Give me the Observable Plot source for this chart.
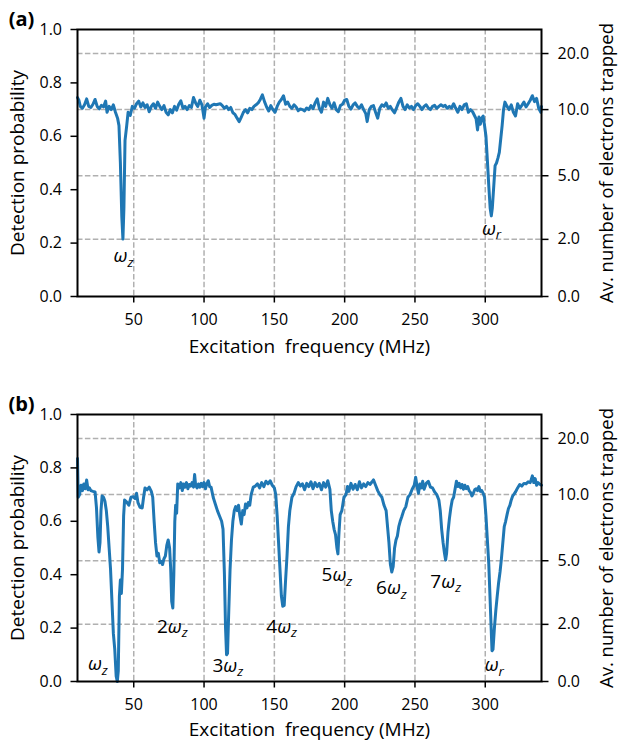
<!DOCTYPE html>
<html>
<head>
<meta charset="utf-8">
<script src="https://cdn.jsdelivr.net/npm/d3@7"></script>
<script src="https://cdn.jsdelivr.net/npm/@observablehq/plot@0.6"></script>
<style>
  html, body { margin: 0; padding: 0; background: white; }
  #chart svg { display: block; }
</style>
</head>
<body>
<div id="chart"></div>
<script>
// ---------- Panel (a) ----------
const freqA = [10,11,12,13.5,15,16.5,18,19.5,21,22.5,24,25.5,27,28.5,30,31,32.5,34,35.5,37,38.5,39.5,40.5,41.5,42.3,43,43.8,45,46,47.5,49,50.5,52,53.5,55,56.5,58,59.5,61,62.5,64,65.5,67,68.5,70,71.5,73,74.5,76,77.5,79,80.5,82,83.5,85,86.5,88,89.5,91,92.5,94,95.5,97,98.5,100,101,102.5,104,105.5,107,108.5,110,111.5,113,114.5,116,117.5,119,120.5,122,123.5,125,126.5,128,129.5,131,132.5,134,135.5,137,138.5,140,141.5,143,144.5,146,147.5,149,150.5,152,153.5,155,156.5,158,159.5,161,162.5,164,165.5,167,168.5,170,171.5,173,174.5,176,177.5,179,180.5,182,183.5,185,186.5,188,189.5,191,192.5,194,195.5,197,198.5,200,201.5,203,204.5,206,207.5,209,210.5,212,213.5,215,216,217.5,219,220.5,222,223.5,225,226.5,228,229.5,231,232.5,234,235.5,237,238.5,240,241.5,243,244.5,246,247.5,249,250.5,252,253.5,255,256.5,258,259.5,261,262.5,264,265.5,267,268.5,270,271.5,273,274.5,276,277.5,279,280.5,282,283.5,285,286.5,288,289.5,291,292.5,293.5,294.5,295.5,296.5,297.5,298.5,299.5,300.5,301.5,302.5,303.5,304.3,305,306,307,308,309,310,311,312,313,314,315.5,317,318.5,320,321.5,323,324.5,326,327.5,329,330.5,332,333.5,335,336.5,338,339.5,340];
const probA = [0.745,0.735,0.712,0.705,0.718,0.740,0.712,0.708,0.720,0.738,0.712,0.703,0.716,0.710,0.732,0.690,0.712,0.700,0.718,0.690,0.668,0.640,0.500,0.300,0.215,0.330,0.585,0.640,0.690,0.678,0.712,0.705,0.722,0.732,0.710,0.725,0.708,0.718,0.692,0.712,0.722,0.705,0.728,0.712,0.700,0.715,0.690,0.680,0.700,0.688,0.712,0.698,0.720,0.733,0.705,0.712,0.700,0.715,0.708,0.745,0.725,0.712,0.735,0.718,0.668,0.710,0.722,0.708,0.716,0.720,0.718,0.720,0.722,0.715,0.705,0.712,0.700,0.708,0.688,0.682,0.668,0.655,0.672,0.690,0.700,0.688,0.705,0.700,0.712,0.718,0.725,0.738,0.755,0.730,0.710,0.695,0.715,0.700,0.690,0.712,0.728,0.738,0.752,0.720,0.728,0.712,0.705,0.718,0.710,0.696,0.702,0.700,0.695,0.706,0.700,0.715,0.703,0.725,0.740,0.705,0.690,0.728,0.712,0.742,0.718,0.705,0.725,0.700,0.692,0.715,0.720,0.735,0.738,0.712,0.702,0.718,0.725,0.712,0.705,0.718,0.700,0.685,0.655,0.700,0.712,0.715,0.690,0.668,0.705,0.718,0.712,0.725,0.705,0.712,0.698,0.688,0.708,0.728,0.742,0.712,0.700,0.718,0.706,0.712,0.700,0.715,0.722,0.712,0.700,0.712,0.718,0.706,0.700,0.712,0.716,0.705,0.712,0.718,0.712,0.716,0.705,0.712,0.706,0.722,0.705,0.690,0.712,0.700,0.718,0.722,0.690,0.700,0.692,0.676,0.665,0.624,0.672,0.645,0.668,0.676,0.640,0.600,0.510,0.415,0.330,0.302,0.330,0.410,0.490,0.500,0.518,0.540,0.590,0.640,0.700,0.728,0.712,0.700,0.718,0.690,0.676,0.722,0.705,0.716,0.728,0.710,0.722,0.735,0.752,0.730,0.742,0.705,0.690,0.712];

// ---------- Panel (b) ----------
const freqB = [10,10.5,11.5,12.5,13.5,14.5,15.5,16.5,17.5,18.5,19.5,21,22.5,23.5,24.5,25.3,26,26.7,27.5,28.5,29.5,30.5,31.5,32.5,33.5,34.5,35.5,36.5,37.5,38.3,39,39.8,40.5,41.2,42,42.8,43.5,45,46.5,48,49.5,51,52,53,54.5,56,57,58,59.5,61,62.5,63.5,64.5,65.5,66.5,67.5,68.5,69.5,70.5,71.5,72.5,73.5,74.5,75.5,76.3,77,77.8,78.5,79.2,79.8,80.5,81.3,82.5,83.5,84.5,85.5,86.5,87.5,88.5,89.5,90.5,91.5,92.5,93.3,94,95,96,97,98,99,100,101,102,103,104,105,106.5,108,109.5,111,112.5,113.5,114.5,115.3,116,116.7,117.5,118.5,119.5,120.5,121.5,122.5,123.5,124.5,125.5,126.5,127.5,128.5,129.5,130.5,131.5,132.5,133.5,135,136.5,138,139.5,141,142.5,144,145.5,147,148.5,150,151,152,153,154,155,156,157,158,159,160,161,162.5,164,165.5,167,168.5,170,171.5,173,174.5,176,177.5,179,180.5,182,183.5,185,186.5,188,189.5,190.5,191.5,192.5,193.5,194.5,195.2,196,196.8,198,199.5,201,202,203,204.5,206,207.5,209,210.5,212,213.5,215,216.5,218,219.5,220.5,222,223.5,225,226.5,228,229.5,230.5,231.5,232.5,233.5,234.5,235.5,236.5,237.5,238.5,239.5,240.5,242,243.5,245,246.5,248,249.5,250.5,251.5,252.5,253.5,254.5,255.5,256.5,258,259.5,261,262.5,264,265.5,267,268,269,270,271,271.8,272.5,273.5,274.5,275.5,276.5,277.5,278.5,279.5,280.5,281.5,282.5,283.5,284.5,285.5,286.5,287.5,288.5,289.5,290.5,291.5,292.5,293.5,294.5,295.5,296.5,297.5,298.5,299.5,300.5,301.5,302.5,303.5,304.2,304.8,305.5,306.5,307.5,308.5,309.5,310.5,311.5,312.5,313.5,314.5,315.5,316.5,317.5,318.5,319.5,320.5,321.5,323,324.5,326,327.5,329,330.5,332,333.5,334.5,335.5,336.5,337.5,338.5,340];
const probB = [0.835,0.690,0.700,0.735,0.715,0.740,0.722,0.755,0.718,0.725,0.715,0.712,0.710,0.650,0.540,0.485,0.520,0.640,0.695,0.690,0.675,0.640,0.580,0.500,0.420,0.300,0.180,0.120,0.020,0.000,0.040,0.320,0.380,0.330,0.420,0.620,0.680,0.672,0.660,0.690,0.692,0.685,0.705,0.670,0.652,0.650,0.690,0.725,0.718,0.728,0.712,0.690,0.600,0.520,0.470,0.480,0.445,0.450,0.438,0.460,0.470,0.510,0.530,0.500,0.420,0.300,0.275,0.400,0.600,0.660,0.630,0.740,0.725,0.745,0.715,0.740,0.728,0.745,0.722,0.738,0.732,0.745,0.728,0.775,0.735,0.725,0.740,0.728,0.742,0.730,0.745,0.722,0.740,0.752,0.730,0.728,0.690,0.665,0.640,0.620,0.600,0.570,0.400,0.200,0.100,0.105,0.250,0.420,0.530,0.600,0.640,0.655,0.640,0.660,0.620,0.590,0.640,0.625,0.665,0.650,0.670,0.660,0.700,0.728,0.732,0.740,0.725,0.745,0.730,0.750,0.740,0.752,0.735,0.725,0.700,0.620,0.520,0.420,0.320,0.282,0.285,0.380,0.470,0.580,0.640,0.690,0.705,0.730,0.745,0.732,0.740,0.718,0.742,0.730,0.748,0.722,0.745,0.730,0.742,0.718,0.745,0.728,0.752,0.720,0.640,0.600,0.570,0.550,0.500,0.478,0.560,0.625,0.640,0.690,0.700,0.730,0.712,0.742,0.720,0.738,0.718,0.748,0.725,0.740,0.730,0.745,0.738,0.748,0.755,0.735,0.715,0.700,0.690,0.660,0.640,0.580,0.520,0.440,0.410,0.430,0.500,0.530,0.545,0.580,0.600,0.615,0.640,0.655,0.690,0.700,0.720,0.735,0.765,0.730,0.705,0.740,0.725,0.750,0.720,0.742,0.750,0.728,0.725,0.710,0.700,0.680,0.640,0.570,0.520,0.480,0.455,0.480,0.560,0.610,0.650,0.680,0.690,0.720,0.750,0.730,0.742,0.725,0.738,0.720,0.735,0.722,0.730,0.715,0.708,0.695,0.705,0.718,0.722,0.715,0.730,0.712,0.715,0.705,0.690,0.620,0.530,0.440,0.300,0.200,0.115,0.120,0.200,0.265,0.320,0.370,0.410,0.460,0.520,0.580,0.600,0.625,0.648,0.660,0.680,0.695,0.702,0.710,0.725,0.738,0.732,0.742,0.740,0.748,0.745,0.770,0.745,0.760,0.735,0.745,0.740,0.735];

// ---------- Annotations ----------
const labelsA = [
  {t: "ω_z", f: 42.7, p: 0.152},
  {t: "ω_r", f: 304.5, p: 0.254}
];
const labelsB = [
  {t: "ω_z", f: 24.5, p: 0.065},
  {t: "2ω_z", f: 77.4, p: 0.205},
  {t: "3ω_z", f: 116.9, p: 0.059},
  {t: "4ω_z", f: 155.2, p: 0.205},
  {t: "5ω_z", f: 194.5, p: 0.399},
  {t: "6ω_z", f: 233.3, p: 0.349},
  {t: "7ω_z", f: 271.9, p: 0.374},
  {t: "ω_r", f: 306.4, p: 0.062}
];

// ---------- Axes ----------
const xTicks = [50, 100, 150, 200, 250, 300];
const leftTicks = [0, 0.2, 0.4, 0.6, 0.8, 1.0];
const rightN = [0, 2, 5, 10, 20];           // average number of electrons trapped
// secondary axis transform: P = 1 - 0.3^(n/10)
const pFromN = n => 1 - Math.pow(0.3, n / 10);
const nFromP = p => 10 * Math.log(1 - p) / Math.log(0.3);
const rightP = rightN.map(pFromN);
const gridP = rightP.filter(p => p > 0);

const xLabel = "Excitation\u00a0 frequency (MHz)";
const yLabel = "Detection probability";
const y2Label = "Av. number of electrons trapped";

function panel(freq, prob, labels, tag, height, marginBottom, xLabelDy) {
  const data = freq.map((f, i) => ({f, p: prob[i]}));
  const grid = {stroke: "#b0b0b0", strokeWidth: 1.5, strokeDasharray: "5.5,2.4"};
  const svg = Plot.plot({
    width: 618, height,
    marginTop: 29, marginLeft: 77, marginRight: 77, marginBottom,
    style: {fontFamily: "'Open Sans', sans-serif", fontSize: "16px", color: "black", background: "white", overflow: "visible"},
    x: {domain: [10, 340]},
    y: {domain: [0, 1]},
    marks: [
      Plot.ruleX(xTicks, grid),
      Plot.ruleY(gridP, grid),
      Plot.line(data, {x: "f", y: "p", stroke: "#1f77b4", strokeWidth: 3, strokeLinejoin: "round", strokeLinecap: "round"}),
      Plot.frame({stroke: "black", strokeWidth: 2}),
      Plot.axisX(xTicks, {tickSize: 6.5, tickPadding: 11, strokeWidth: 1.5, label: null, fontSize: 16}),
      Plot.axisY(leftTicks, {anchor: "left", tickSize: 6.5, tickPadding: 9, strokeWidth: 1.5, tickFormat: d => d.toFixed(1), label: null, fontSize: 16}),
      Plot.axisY(rightP, {anchor: "right", tickSize: 6.5, tickPadding: 9.5, strokeWidth: 1.5, tickFormat: d => (Math.round(nFromP(d) * 10) / 10).toFixed(1), label: null, fontSize: 16}),
      Plot.text([xLabel], {frameAnchor: "bottom", dy: xLabelDy, lineAnchor: "middle", textAnchor: "middle", fontSize: 19}),
      Plot.text([yLabel], {frameAnchor: "left", dx: -60, rotate: -90, textAnchor: "middle", lineAnchor: "middle", fontSize: 19}),
      Plot.text([y2Label], {frameAnchor: "right", dx: 65.5, rotate: -90, textAnchor: "middle", lineAnchor: "middle", fontSize: 18.5}),
      Plot.text([tag], {frameAnchor: "top-left", dx: -56, dy: -10, textAnchor: "middle", lineAnchor: "middle", fontSize: 20, fontWeight: "bold"}),
      Plot.text(labels, {x: "f", y: "p", text: "t", fontSize: 19})
    ]
  });
  // render "ω_z" style labels as ω with an italic subscript
  d3.select(svg).selectAll("text").each(function() {
    const s = this.textContent;
    if (!s.includes("_")) return;
    const [main, sub] = s.split("_");
    const el = d3.select(this);
    el.text(null);
    const pre = main.replace("ω", "");
    if (pre) el.append("tspan").text(pre);
    el.append("tspan").attr("font-style", "italic").text("ω");
    el.append("tspan").attr("font-style", "italic").attr("font-size", "13.5px").attr("dy", "4.5").text(sub);
  });
  return svg;
}

const chart = document.getElementById("chart");
chart.appendChild(panel(freqA, probA, labelsA, "(a)", 385, 89, 50));
chart.appendChild(panel(freqB, probB, labelsB, "(b)", 356, 60, 48.5));
</script>
</body>
</html>
